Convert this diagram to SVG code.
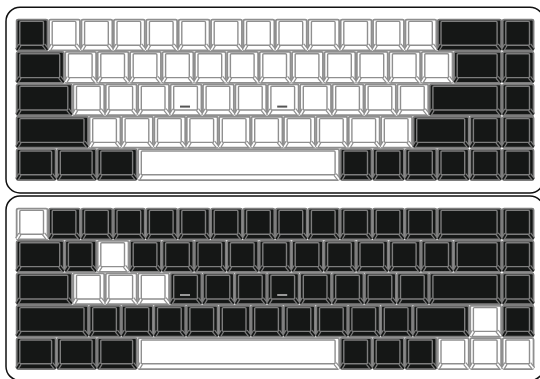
<svg xmlns="http://www.w3.org/2000/svg" width="540" height="379" viewBox="0 0 540 379">
<style>
.board{fill:#fff;stroke:#111;stroke-width:1.5}
.w{--f:#fff;--s:#8f8f8f}
.b{--f:#151716;--s:#7d7d7d}
.o{fill:var(--f);stroke:var(--s);stroke-width:1.8}
.i{fill:var(--f);stroke:var(--s);stroke-width:1.4}
.d{fill:none;stroke:var(--s);stroke-width:4}
.c{fill:none;stroke:var(--f);stroke-width:1.6}
.m1{fill:#555}
.m2{fill:#999}
</style>
<defs>
<g id="k324" transform="translate(-.6 0)"><rect class="o" x=".75" y=".75" width="30.9" height="30.9" rx="1.5"/><path class="d" d="M4 26 1 31M27.6 26 31.6 31"/><path class="c" d="M4 26 1 31M27.6 26 31.6 31"/><rect class="i" x="3.9" y="2.6" width="23.7" height="23.8" rx="1"/></g>
<g id="k405" transform="translate(-.6 0)"><rect class="o" x=".75" y=".75" width="39" height="30.9" rx="1.5"/><path class="d" d="M4 26 1 31M35.7 26 39.7 31"/><path class="c" d="M4 26 1 31M35.7 26 39.7 31"/><rect class="i" x="3.9" y="2.6" width="31.8" height="23.8" rx="1"/></g>
<g id="k486" transform="translate(-.6 0)"><rect class="o" x=".75" y=".75" width="47.1" height="30.9" rx="1.5"/><path class="d" d="M4 26 1 31M43.8 26 47.8 31"/><path class="c" d="M4 26 1 31M43.8 26 47.8 31"/><rect class="i" x="3.9" y="2.6" width="39.9" height="23.8" rx="1"/></g>
<g id="k567" transform="translate(-.6 0)"><rect class="o" x=".75" y=".75" width="55.2" height="30.9" rx="1.5"/><path class="d" d="M4 26 1 31M51.9 26 55.9 31"/><path class="c" d="M4 26 1 31M51.9 26 55.9 31"/><rect class="i" x="3.9" y="2.6" width="48" height="23.8" rx="1"/></g>
<g id="k648" transform="translate(-.6 0)"><rect class="o" x=".75" y=".75" width="63.3" height="30.9" rx="1.5"/><path class="d" d="M4 26 1 31M60 26 64 31"/><path class="c" d="M4 26 1 31M60 26 64 31"/><rect class="i" x="3.9" y="2.6" width="56.1" height="23.8" rx="1"/></g>
<g id="k729" transform="translate(-.6 0)"><rect class="o" x=".75" y=".75" width="71.4" height="30.9" rx="1.5"/><path class="d" d="M4 26 1 31M68.1 26 72.1 31"/><path class="c" d="M4 26 1 31M68.1 26 72.1 31"/><rect class="i" x="3.9" y="2.6" width="64.2" height="23.8" rx="1"/></g>
<g id="k2025" transform="translate(-.6 0)"><rect class="o" x=".75" y=".75" width="201" height="30.9" rx="1.5"/><path class="d" d="M4 26 1 31M197.7 26 201.7 31"/><path class="c" d="M4 26 1 31M197.7 26 201.7 31"/><rect class="i" x="3.9" y="2.6" width="193.8" height="23.8" rx="1"/></g>
</defs>
<g id="board-top"><rect class="board" x="6" y="7.3" width="538" height="185.6" rx="14"/>
<g class="b" id="t1-1"><use href="#k324" x="16.5" y="18.8"/></g>
<g class="w" id="t1-2"><use href="#k324" x="48.9" y="18.8"/></g>
<g class="w" id="t1-3"><use href="#k324" x="81.3" y="18.8"/></g>
<g class="w" id="t1-4"><use href="#k324" x="113.7" y="18.8"/></g>
<g class="w" id="t1-5"><use href="#k324" x="146.1" y="18.8"/></g>
<g class="w" id="t1-6"><use href="#k324" x="178.5" y="18.8"/></g>
<g class="w" id="t1-7"><use href="#k324" x="210.9" y="18.8"/></g>
<g class="w" id="t1-8"><use href="#k324" x="243.3" y="18.8"/></g>
<g class="w" id="t1-9"><use href="#k324" x="275.7" y="18.8"/></g>
<g class="w" id="t1-10"><use href="#k324" x="308.1" y="18.8"/></g>
<g class="w" id="t1-11"><use href="#k324" x="340.5" y="18.8"/></g>
<g class="w" id="t1-12"><use href="#k324" x="372.9" y="18.8"/></g>
<g class="w" id="t1-13"><use href="#k324" x="405.3" y="18.8"/></g>
<g class="b" id="t1-14"><use href="#k648" x="437.7" y="18.8"/></g>
<g class="b" id="t1-15"><use href="#k324" x="502.5" y="18.8"/></g>
<g class="b" id="t2-1"><use href="#k486" x="16.5" y="51.2"/></g>
<g class="w" id="t2-2"><use href="#k324" x="65.1" y="51.2"/></g>
<g class="w" id="t2-3"><use href="#k324" x="97.5" y="51.2"/></g>
<g class="w" id="t2-4"><use href="#k324" x="129.9" y="51.2"/></g>
<g class="w" id="t2-5"><use href="#k324" x="162.3" y="51.2"/></g>
<g class="w" id="t2-6"><use href="#k324" x="194.7" y="51.2"/></g>
<g class="w" id="t2-7"><use href="#k324" x="227.1" y="51.2"/></g>
<g class="w" id="t2-8"><use href="#k324" x="259.5" y="51.2"/></g>
<g class="w" id="t2-9"><use href="#k324" x="291.9" y="51.2"/></g>
<g class="w" id="t2-10"><use href="#k324" x="324.3" y="51.2"/></g>
<g class="w" id="t2-11"><use href="#k324" x="356.7" y="51.2"/></g>
<g class="w" id="t2-12"><use href="#k324" x="389.1" y="51.2"/></g>
<g class="w" id="t2-13"><use href="#k324" x="421.5" y="51.2"/></g>
<g class="b" id="t2-14"><use href="#k486" x="453.9" y="51.2"/></g>
<g class="b" id="t2-15"><use href="#k324" x="502.5" y="51.2"/></g>
<g class="b" id="t3-1"><use href="#k567" x="16.5" y="83.6"/></g>
<g class="w" id="t3-2"><use href="#k324" x="73.2" y="83.6"/></g>
<g class="w" id="t3-3"><use href="#k324" x="105.6" y="83.6"/></g>
<g class="w" id="t3-4"><use href="#k324" x="138" y="83.6"/></g>
<g class="w" id="t3-5"><use href="#k324" x="170.4" y="83.6"/><rect class="m1" x="180" y="105.6" width="10" height="2"/></g>
<g class="w" id="t3-6"><use href="#k324" x="202.8" y="83.6"/></g>
<g class="w" id="t3-7"><use href="#k324" x="235.2" y="83.6"/></g>
<g class="w" id="t3-8"><use href="#k324" x="267.6" y="83.6"/><rect class="m1" x="277.2" y="105.6" width="10" height="2"/></g>
<g class="w" id="t3-9"><use href="#k324" x="300" y="83.6"/></g>
<g class="w" id="t3-10"><use href="#k324" x="332.4" y="83.6"/></g>
<g class="w" id="t3-11"><use href="#k324" x="364.8" y="83.6"/></g>
<g class="w" id="t3-12"><use href="#k324" x="397.2" y="83.6"/></g>
<g class="b" id="t3-13"><use href="#k729" x="429.6" y="83.6"/></g>
<g class="b" id="t3-14"><use href="#k324" x="502.5" y="83.6"/></g>
<g class="b" id="t4-1"><use href="#k729" x="16.5" y="116"/></g>
<g class="w" id="t4-2"><use href="#k324" x="89.4" y="116"/></g>
<g class="w" id="t4-3"><use href="#k324" x="121.8" y="116"/></g>
<g class="w" id="t4-4"><use href="#k324" x="154.2" y="116"/></g>
<g class="w" id="t4-5"><use href="#k324" x="186.6" y="116"/></g>
<g class="w" id="t4-6"><use href="#k324" x="219" y="116"/></g>
<g class="w" id="t4-7"><use href="#k324" x="251.4" y="116"/></g>
<g class="w" id="t4-8"><use href="#k324" x="283.8" y="116"/></g>
<g class="w" id="t4-9"><use href="#k324" x="316.2" y="116"/></g>
<g class="w" id="t4-10"><use href="#k324" x="348.6" y="116"/></g>
<g class="w" id="t4-11"><use href="#k324" x="381" y="116"/></g>
<g class="b" id="t4-12"><use href="#k567" x="413.4" y="116"/></g>
<g class="b" id="t4-13"><use href="#k324" x="470.1" y="116"/></g>
<g class="b" id="t4-14"><use href="#k324" x="502.5" y="116"/></g>
<g class="b" id="t5-1"><use href="#k405" x="16.5" y="148.4"/></g>
<g class="b" id="t5-2"><use href="#k405" x="57" y="148.4"/></g>
<g class="b" id="t5-3"><use href="#k405" x="97.5" y="148.4"/></g>
<g class="w" id="t5-4"><use href="#k2025" x="138" y="148.4"/></g>
<g class="b" id="t5-5"><use href="#k324" x="340.5" y="148.4"/></g>
<g class="b" id="t5-6"><use href="#k324" x="372.9" y="148.4"/></g>
<g class="b" id="t5-7"><use href="#k324" x="405.3" y="148.4"/></g>
<g class="b" id="t5-8"><use href="#k324" x="437.7" y="148.4"/></g>
<g class="b" id="t5-9"><use href="#k324" x="470.1" y="148.4"/></g>
<g class="b" id="t5-10"><use href="#k324" x="502.5" y="148.4"/></g>
</g>
<g id="board-bottom"><rect class="board" x="6" y="196" width="538" height="184.5" rx="14"/>
<g class="w" id="b1-1"><use href="#k324" x="16.5" y="207.8"/></g>
<g class="b" id="b1-2"><use href="#k324" x="48.9" y="207.8"/></g>
<g class="b" id="b1-3"><use href="#k324" x="81.3" y="207.8"/></g>
<g class="b" id="b1-4"><use href="#k324" x="113.7" y="207.8"/></g>
<g class="b" id="b1-5"><use href="#k324" x="146.1" y="207.8"/></g>
<g class="b" id="b1-6"><use href="#k324" x="178.5" y="207.8"/></g>
<g class="b" id="b1-7"><use href="#k324" x="210.9" y="207.8"/></g>
<g class="b" id="b1-8"><use href="#k324" x="243.3" y="207.8"/></g>
<g class="b" id="b1-9"><use href="#k324" x="275.7" y="207.8"/></g>
<g class="b" id="b1-10"><use href="#k324" x="308.1" y="207.8"/></g>
<g class="b" id="b1-11"><use href="#k324" x="340.5" y="207.8"/></g>
<g class="b" id="b1-12"><use href="#k324" x="372.9" y="207.8"/></g>
<g class="b" id="b1-13"><use href="#k324" x="405.3" y="207.8"/></g>
<g class="b" id="b1-14"><use href="#k648" x="437.7" y="207.8"/></g>
<g class="b" id="b1-15"><use href="#k324" x="502.5" y="207.8"/></g>
<g class="b" id="b2-1"><use href="#k486" x="16.5" y="240.2"/></g>
<g class="b" id="b2-2"><use href="#k324" x="65.1" y="240.2"/></g>
<g class="w" id="b2-3"><use href="#k324" x="97.5" y="240.2"/></g>
<g class="b" id="b2-4"><use href="#k324" x="129.9" y="240.2"/></g>
<g class="b" id="b2-5"><use href="#k324" x="162.3" y="240.2"/></g>
<g class="b" id="b2-6"><use href="#k324" x="194.7" y="240.2"/></g>
<g class="b" id="b2-7"><use href="#k324" x="227.1" y="240.2"/></g>
<g class="b" id="b2-8"><use href="#k324" x="259.5" y="240.2"/></g>
<g class="b" id="b2-9"><use href="#k324" x="291.9" y="240.2"/></g>
<g class="b" id="b2-10"><use href="#k324" x="324.3" y="240.2"/></g>
<g class="b" id="b2-11"><use href="#k324" x="356.7" y="240.2"/></g>
<g class="b" id="b2-12"><use href="#k324" x="389.1" y="240.2"/></g>
<g class="b" id="b2-13"><use href="#k324" x="421.5" y="240.2"/></g>
<g class="b" id="b2-14"><use href="#k486" x="453.9" y="240.2"/></g>
<g class="b" id="b2-15"><use href="#k324" x="502.5" y="240.2"/></g>
<g class="b" id="b3-1"><use href="#k567" x="16.5" y="272.6"/></g>
<g class="w" id="b3-2"><use href="#k324" x="73.2" y="272.6"/></g>
<g class="w" id="b3-3"><use href="#k324" x="105.6" y="272.6"/></g>
<g class="w" id="b3-4"><use href="#k324" x="138" y="272.6"/></g>
<g class="b" id="b3-5"><use href="#k324" x="170.4" y="272.6"/><rect class="m2" x="180" y="294" width="10" height="2"/></g>
<g class="b" id="b3-6"><use href="#k324" x="202.8" y="272.6"/></g>
<g class="b" id="b3-7"><use href="#k324" x="235.2" y="272.6"/></g>
<g class="b" id="b3-8"><use href="#k324" x="267.6" y="272.6"/><rect class="m2" x="277.2" y="294" width="10" height="2"/></g>
<g class="b" id="b3-9"><use href="#k324" x="300" y="272.6"/></g>
<g class="b" id="b3-10"><use href="#k324" x="332.4" y="272.6"/></g>
<g class="b" id="b3-11"><use href="#k324" x="364.8" y="272.6"/></g>
<g class="b" id="b3-12"><use href="#k324" x="397.2" y="272.6"/></g>
<g class="b" id="b3-13"><use href="#k729" x="429.6" y="272.6"/></g>
<g class="b" id="b3-14"><use href="#k324" x="502.5" y="272.6"/></g>
<g class="b" id="b4-1"><use href="#k729" x="16.5" y="305"/></g>
<g class="b" id="b4-2"><use href="#k324" x="89.4" y="305"/></g>
<g class="b" id="b4-3"><use href="#k324" x="121.8" y="305"/></g>
<g class="b" id="b4-4"><use href="#k324" x="154.2" y="305"/></g>
<g class="b" id="b4-5"><use href="#k324" x="186.6" y="305"/></g>
<g class="b" id="b4-6"><use href="#k324" x="219" y="305"/></g>
<g class="b" id="b4-7"><use href="#k324" x="251.4" y="305"/></g>
<g class="b" id="b4-8"><use href="#k324" x="283.8" y="305"/></g>
<g class="b" id="b4-9"><use href="#k324" x="316.2" y="305"/></g>
<g class="b" id="b4-10"><use href="#k324" x="348.6" y="305"/></g>
<g class="b" id="b4-11"><use href="#k324" x="381" y="305"/></g>
<g class="b" id="b4-12"><use href="#k567" x="413.4" y="305"/></g>
<g class="w" id="b4-13"><use href="#k324" x="470.1" y="305"/></g>
<g class="b" id="b4-14"><use href="#k324" x="502.5" y="305"/></g>
<g class="b" id="b5-1"><use href="#k405" x="16.5" y="337.4"/></g>
<g class="b" id="b5-2"><use href="#k405" x="57" y="337.4"/></g>
<g class="b" id="b5-3"><use href="#k405" x="97.5" y="337.4"/></g>
<g class="w" id="b5-4"><use href="#k2025" x="138" y="337.4"/></g>
<g class="b" id="b5-5"><use href="#k324" x="340.5" y="337.4"/></g>
<g class="b" id="b5-6"><use href="#k324" x="372.9" y="337.4"/></g>
<g class="b" id="b5-7"><use href="#k324" x="405.3" y="337.4"/></g>
<g class="w" id="b5-8"><use href="#k324" x="437.7" y="337.4"/></g>
<g class="w" id="b5-9"><use href="#k324" x="470.1" y="337.4"/></g>
<g class="w" id="b5-10"><use href="#k324" x="502.5" y="337.4"/></g>
</g>
</svg>
